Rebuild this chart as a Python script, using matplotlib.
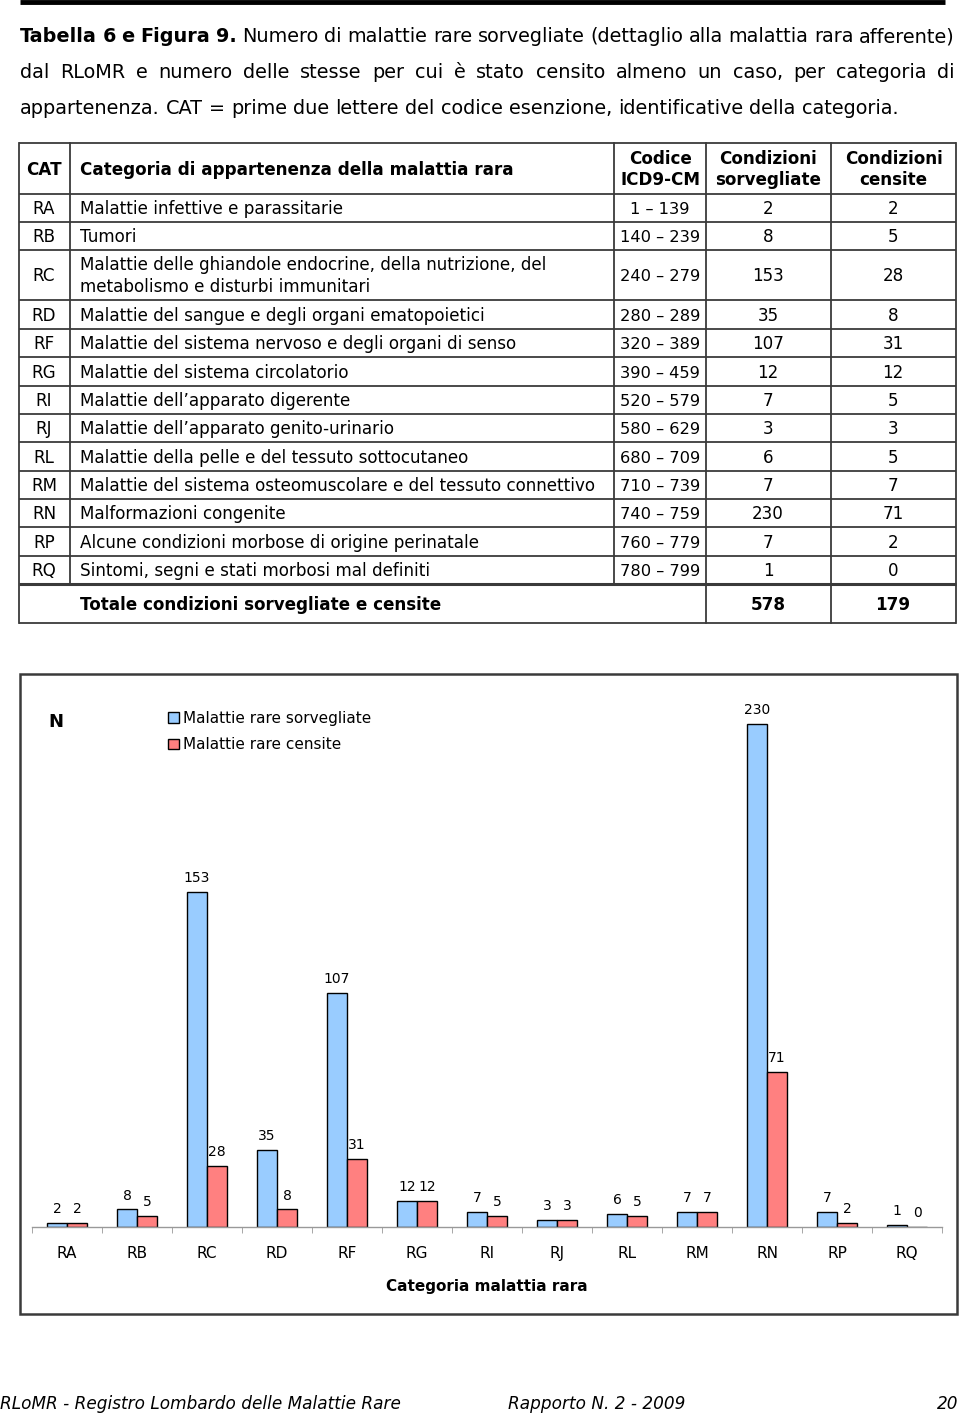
import matplotlib
matplotlib.use("Agg")
import matplotlib.pyplot as plt
from matplotlib.patches import Rectangle, Patch
import numpy as np

FONT = "DejaVu Sans"
plt.rcParams['font.family'] = [FONT]

# ---- data ----
cats = ['RA', 'RB', 'RC', 'RD', 'RF', 'RG', 'RI', 'RJ', 'RL', 'RM', 'RN', 'RP', 'RQ']
descr = ['Malattie infettive e parassitarie',
         'Tumori',
         'Malattie delle ghiandole endocrine, della nutrizione, del\nmetabolismo e disturbi immunitari',
         'Malattie del sangue e degli organi ematopoietici',
         'Malattie del sistema nervoso e degli organi di senso',
         'Malattie del sistema circolatorio',
         'Malattie dell\u2019apparato digerente',
         'Malattie dell\u2019apparato genito-urinario',
         'Malattie della pelle e del tessuto sottocutaneo',
         'Malattie del sistema osteomuscolare e del tessuto connettivo',
         'Malformazioni congenite',
         'Alcune condizioni morbose di origine perinatale',
         'Sintomi, segni e stati morbosi mal definiti']
codes = ['1 \u2013 139', '140 \u2013 239', '240 \u2013 279', '280 \u2013 289', '320 \u2013 389',
         '390 \u2013 459', '520 \u2013 579', '580 \u2013 629', '680 \u2013 709', '710 \u2013 739',
         '740 \u2013 759', '760 \u2013 779', '780 \u2013 799']
sorvegliate = [2, 8, 153, 35, 107, 12, 7, 3, 6, 7, 230, 7, 1]
censite = [2, 5, 28, 8, 31, 12, 5, 3, 5, 7, 71, 2, 0]

title_lines = [
    [("Tabella 6 e Figura 9.", "bold"),
     ("Numero di malattie rare sorvegliate (dettaglio alla malattia rara afferente)", "normal")],
    [("dal RLoMR e numero delle stesse per cui \u00e8 stato censito almeno un caso, per categoria di", "normal")],
    [("appartenenza. CAT = prime due lettere del codice esenzione, identificative della categoria.", "normal")],
]
header = ['CAT', 'Categoria di appartenenza della malattia rara', 'Codice\nICD9-CM',
          'Condizioni\nsorvegliate', 'Condizioni\ncensite']
footer_left = 'RLoMR - Registro Lombardo delle Malattie Rare'
footer_mid = 'Rapporto N. 2 - 2009'
page_no = '20'

BLUE = '#99CCFF'
RED = '#FF8080'
LINE = '#3a3a3a'

W, H = 960, 1415
fig = plt.figure(figsize=(W / 100, H / 100), dpi=100)
page = fig.add_axes([0, 0, 1, 1])
page.set_xlim(0, W)
page.set_ylim(H, 0)
page.axis('off')


def base(cy, size):
    # baseline y for text visually centred on cy (cap height ~0.73 em)
    return cy + 0.73 * size * 100 / 72 / 2


# top rule
page.plot([20, 945], [2, 2], color='black', lw=3.5, solid_capstyle='butt')

# ---- title, justified ----
renderer = fig.canvas.get_renderer()
title_size = 13.9
ys = [35, 71, 107]
for i, line in enumerate(title_lines):
    words = []
    for chunk, weight in line:
        for w in chunk.split():
            t = page.text(0, base(ys[i], title_size), w, fontsize=title_size, weight=weight,
                          va='baseline', ha='left')
            words.append(t)
    widths = [t.get_window_extent(renderer).width for t in words]
    if i < len(title_lines) - 1:
        gap = (955 - 20 - sum(widths)) / (len(words) - 1)
    else:
        sp = page.text(0, 0, 'a a', fontsize=title_size)
        sa = page.text(0, 0, 'aa', fontsize=title_size)
        gap = sp.get_window_extent(renderer).width - sa.get_window_extent(renderer).width
        sp.remove(); sa.remove()
    x = 20
    for t, w in zip(words, widths):
        t.set_x(x)
        x += w + gap

# ---- table ----
tsize = 12.1
xs = [19, 70, 614, 706, 831, 956]
yb = [143, 194, 222, 250, 300, 329, 357, 386, 414, 442, 471, 499, 527, 556, 584, 623]
lw = 1.3
# horizontal lines
for y in yb:
    page.plot([xs[0], xs[-1]], [y, y], color=LINE, lw=lw if y != 584 else 2.2,
              solid_capstyle='butt')
# vertical lines
for x in xs:
    if x in (70, 614):
        page.plot([x, x], [yb[0], 584], color=LINE, lw=lw)
    else:
        page.plot([x, x], [yb[0], yb[-1]], color=LINE, lw=lw)

hy = (yb[0] + yb[1]) / 2
page.text(44, base(hy, tsize), header[0], fontsize=tsize, weight='bold', ha='center', va='baseline')
page.text(80, base(hy, tsize), header[1], fontsize=tsize, weight='bold', ha='left', va='baseline')
for j in range(2, 5):
    page.text((xs[j] + xs[j + 1]) / 2, hy + 1, header[j], fontsize=tsize, weight='bold',
              ha='center', va='center', linespacing=1.25)

for i in range(len(cats)):
    cy = (yb[i + 1] + yb[i + 2]) / 2
    by = base(cy, tsize)
    page.text(44, by, cats[i], fontsize=tsize, ha='center', va='baseline')
    if '\n' in descr[i]:
        page.text(80, cy + 1, descr[i], fontsize=tsize, ha='left', va='center', linespacing=1.3)
    else:
        page.text(80, by, descr[i], fontsize=tsize, ha='left', va='baseline')
    page.text(660, by, codes[i], fontsize=tsize - 0.4, ha='center', va='baseline')
    page.text(768, by, str(sorvegliate[i]), fontsize=tsize, ha='center', va='baseline')
    page.text(893, by, str(censite[i]), fontsize=tsize, ha='center', va='baseline')

ty = base((yb[-2] + yb[-1]) / 2, tsize)
page.text(80, ty, 'Totale condizioni sorvegliate e censite', fontsize=tsize, weight='bold',
          ha='left', va='baseline')
page.text(768, ty, str(sum(sorvegliate)), fontsize=tsize, weight='bold', ha='center', va='baseline')
page.text(893, ty, str(sum(censite)), fontsize=tsize, weight='bold', ha='center', va='baseline')

# ---- chart frame ----
page.add_patch(Rectangle((20, 674), 937, 640, fill=False, edgecolor=LINE, lw=1.8))
page.text(48, base(720, 13), 'N', fontsize=13, weight='bold', ha='left', va='baseline')

# ---- bar chart ----
left, right, bottom, top = 32, 942, 1227, 680
ax = fig.add_axes([left / W, 1 - bottom / H, (right - left) / W, (bottom - top) / H])
ax.patch.set_alpha(0)
x = np.arange(len(cats))
bw = 20 / 70
b1 = ax.bar(x - bw / 2, sorvegliate, bw, color=BLUE, edgecolor='black', lw=1.0,
            label='Malattie rare sorvegliate')
b2 = ax.bar(x + bw / 2, censite, bw, color=RED, edgecolor='black', lw=1.0,
            label='Malattie rare censite')
ax.bar_label(b1, padding=5, fontsize=10)
ax.bar_label(b2, padding=5, fontsize=10)
ax.set_xlim(-0.5, len(cats) - 0.5)
ax.set_ylim(0, 250)
for s in ['left', 'right', 'top']:
    ax.spines[s].set_visible(False)
ax.spines['bottom'].set_color('#999999')
ax.spines['bottom'].set_linewidth(1.0)
ax.set_yticks([])
ax.set_xticks(x)
ax.set_xticklabels(cats, fontsize=11)
ax.set_xticks(np.arange(-0.5, len(cats)), minor=True)
ax.tick_params(axis='x', which='major', length=0, pad=14)
ax.tick_params(axis='x', which='minor', length=4, color='#999999', direction='out')
ax.set_xlabel('Categoria malattia rara', fontsize=11, weight='bold', labelpad=13)

ax.legend(handles=[Patch(facecolor=BLUE, edgecolor='black', lw=1.0, label='Malattie rare sorvegliate'),
                   Patch(facecolor=RED, edgecolor='black', lw=1.0, label='Malattie rare censite')],
          loc='upper left', bbox_to_anchor=(168 / W, 1 - 711 / H), bbox_transform=fig.transFigure,
          frameon=False, fontsize=11, handlelength=0.7, handleheight=0.7, handletextpad=0.3,
          labelspacing=0.75, borderpad=0, borderaxespad=0)

# ---- footer ----
fsize = 12.2
fy = base(1403, fsize)
page.text(0, fy, footer_left, fontsize=fsize, style='italic', ha='left', va='baseline')
page.text(508, fy, footer_mid, fontsize=fsize, style='italic', ha='left', va='baseline')
page.text(958, fy, page_no, fontsize=fsize, style='italic', ha='right', va='baseline')

fig.savefig('out.png', dpi=100)
